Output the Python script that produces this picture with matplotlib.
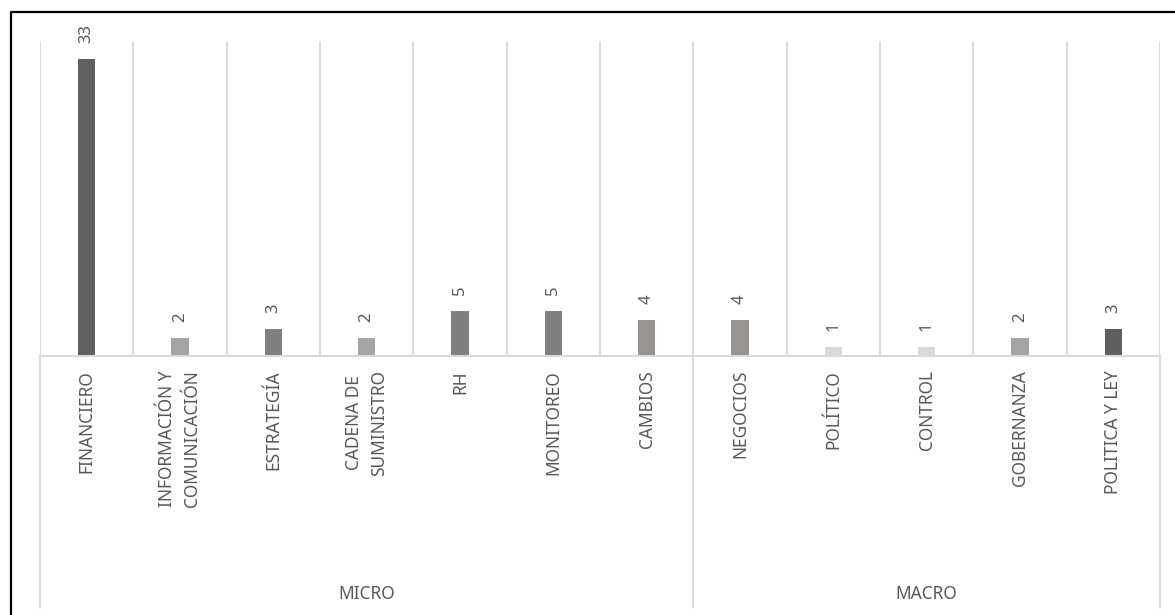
import matplotlib
matplotlib.use("Agg")
import matplotlib.pyplot as plt
from matplotlib.lines import Line2D
import matplotlib.transforms as mtransforms

categories = ["FINANCIERO", "INFORMACIÓN Y\nCOMUNICACIÓN", "ESTRATEGÍA", "CADENA DE\nSUMINISTRO",
              "RH", "MONITOREO", "CAMBIOS", "NEGOCIOS", "POLÍTICO", "CONTROL",
              "GOBERNANZA", "POLITICA Y LEY"]
values = [33, 2, 3, 2, 5, 5, 4, 4, 1, 1, 2, 3]
bar_colors = ["#606060", "#a5a5a5", "#7f7f7f", "#a5a5a5", "#7f7f7f", "#7f7f7f",
              "#989492", "#989492", "#d9d9d9", "#d9d9d9", "#a5a5a5", "#5f5f5f"]
groups = ["MICRO", "MACRO"]
group_sizes = [7, 5]

plt.rcParams['font.family'] = ['Noto Sans', 'DejaVu Sans']
txt_color = "#595959"
grid_color = "#d9d9d9"

W, H = 1175, 615
fig = plt.figure(figsize=(W / 100, H / 100), dpi=100)
fig.patch.set_facecolor("white")

left, right, top_px, base_px = 40, 1160, 42, 356
ax = fig.add_axes([left / W, 1 - base_px / H, (right - left) / W, (base_px - top_px) / H])
x = list(range(len(categories)))
ax.bar(x, values, width=0.185, color=bar_colors, zorder=3)
ax.set_xlim(-0.5, len(categories) - 0.5)
ax.set_ylim(0, 34.9)
for s in ax.spines.values():
    s.set_visible(False)
ax.set_yticks([])

# vertical gridlines at category boundaries
for b in [i - 0.5 for i in range(len(categories) + 1)]:
    ax.axvline(b, color=grid_color, lw=1.5, zorder=1)
ax.axhline(0, color=grid_color, lw=1.5, zorder=4, clip_on=False)

# value labels
for xi, v in zip(x, values):
    ax.annotate(str(v), (xi, v), xytext=(0, 11.5), textcoords="offset points",
                rotation=90, ha="center", va="bottom", fontsize=12, color=txt_color)

# category tick labels
ax.set_xticks(x)
ax.set_xticklabels(categories, rotation=90, ha="center", va="top",
                   fontsize=12.5, color=txt_color, multialignment="center",
                   linespacing=1.5)
ax.tick_params(axis="x", length=0, pad=10)

# group separators and labels
trans = mtransforms.blended_transform_factory(ax.transData, ax.transAxes)
y_bottom = (base_px - 607) / (base_px - top_px)
bounds = [-0.5]
for n in group_sizes:
    bounds.append(bounds[-1] + n)
for b in bounds:
    ax.plot([b, b], [0, y_bottom], color=grid_color, lw=1.5, transform=trans, clip_on=False)
y_grp = (base_px - 594) / (base_px - top_px)
for g, a, b in zip(groups, bounds[:-1], bounds[1:]):
    ax.text((a + b) / 2, y_grp, g, transform=trans, ha="center", va="center",
            fontsize=12.5, color=txt_color)

# outer border (top and left only are visible)
fig.add_artist(Line2D([11 / W, 11 / W, 1.0], [0, 1 - 12 / H, 1 - 12 / H],
                      transform=fig.transFigure, color="black", lw=1.6))

fig.savefig("out.png", dpi=100)
